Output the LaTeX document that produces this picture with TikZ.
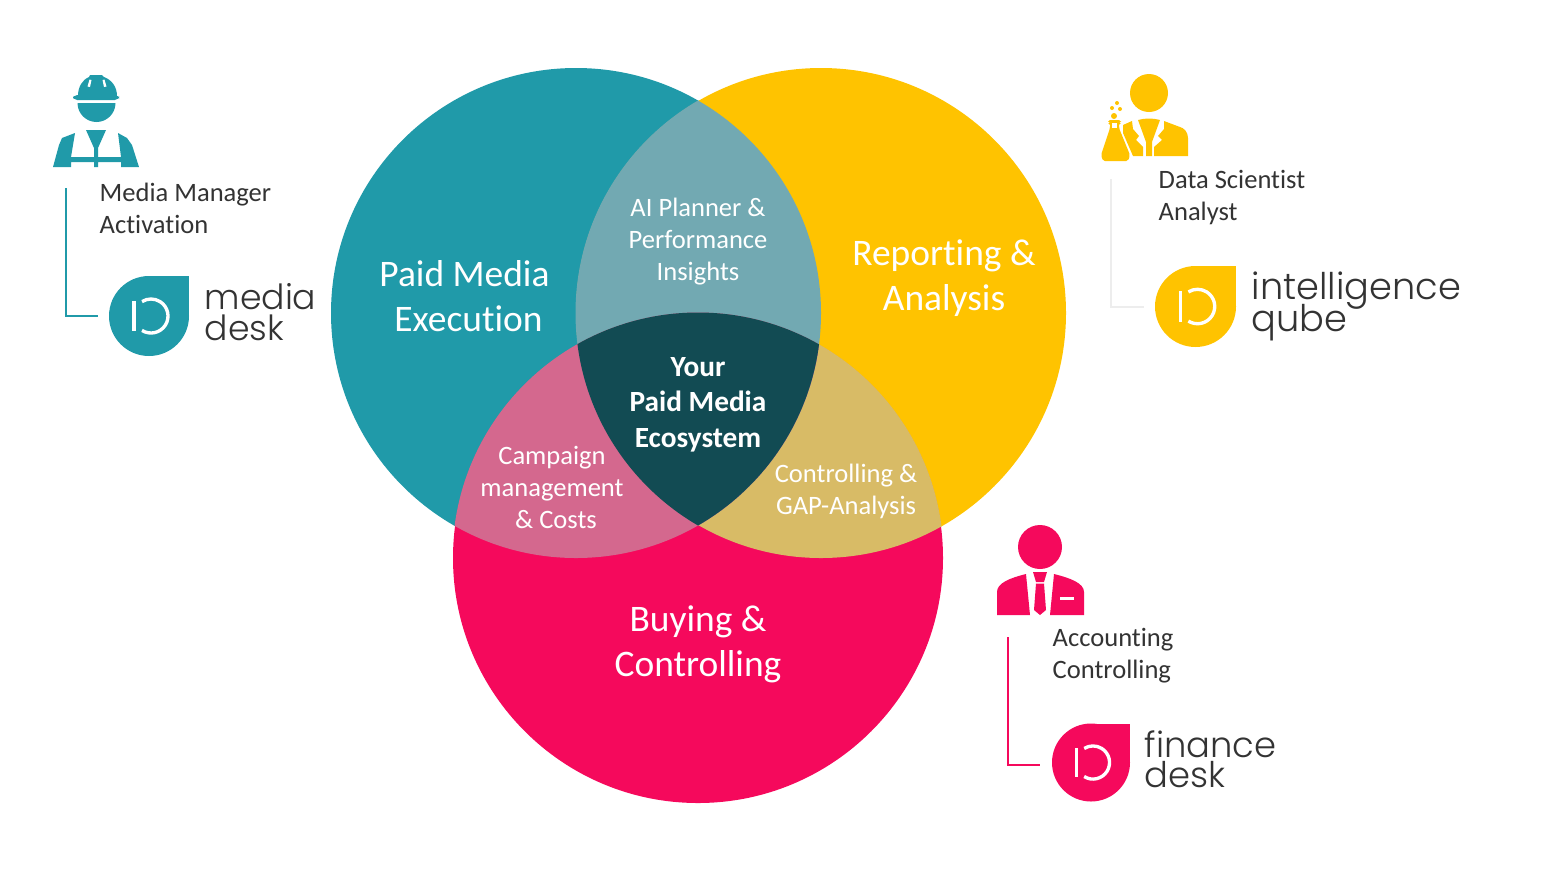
\documentclass[tikz,border=0pt]{standalone}
\usepackage{fontspec}
\setmainfont{Carlito}[Ligatures=NoCommon]
\newfontfamily\logofont{Poppins}[UprightFont=* Light]
\definecolor{tealc}{HTML}{209AA9}
\definecolor{yellowc}{HTML}{FFC300}
\definecolor{pinkc}{HTML}{F5095C}
\definecolor{lensty}{HTML}{72A9B2}
\definecolor{lenstp}{HTML}{D4688E}
\definecolor{lensyp}{HTML}{D8BB66}
\definecolor{corec}{HTML}{124B53}
\definecolor{inkc}{HTML}{333333}
\definecolor{lineyc}{HTML}{EDEDED}
\newcommand{\tightlines}{\lineskiplimit=-20pt\relax}
\newcommand{\logosize}[1]{\logofont\fontsize{#1}{8.6}\selectfont\tightlines}
\tikzset{
  bigtext/.style={text=white,align=center,inner sep=0pt,font=\fontsize{10.65}{12.76}\selectfont},
  midtext/.style={text=white,align=center,inner sep=0pt,font=\fontsize{7.55}{9.07}\selectfont},
  coretext/.style={text=white,align=center,inner sep=0pt,font=\fontsize{8.33}{10.1}\selectfont\bfseries},
  roletext/.style={text=inkc,align=left,anchor=west,inner sep=0pt,font=\fontsize{7.55}{9.07}\selectfont},
  logotext/.style={text=inkc,align=left,anchor=west,inner sep=0pt,font=\logosize{#1}},
  elbow/.style={line width=0.45pt},
}
% drop with the white mark: centre x, centre y, radius, colour
\newcommand{\logodrop}[4]{
  \begin{scope}[shift={(#1,#2)},scale=#3/40]
    \fill[#4] (0,0) circle (40);
    \fill[#4] (0,0) rectangle (40,-40);
    \draw[white,line width=0.95pt] (-15,-15) -- (-15,15);
    \draw[white,line width=0.95pt] (2,0) ++(122:17) arc (122:-122:17);
  \end{scope}
}
\begin{document}
\begin{tikzpicture}[x=0.01cm,y=-0.01cm]
\useasboundingbox (0,0) rectangle (1542,872);
% the three circles
\fill[tealc] (576,313) circle (245);
\fill[yellowc] (821,313) circle (245);
\fill[pinkc] (698,558) circle (245);
\begin{scope}
  \clip (821,313) circle (245);
  \clip (-10,-10) rectangle (1552,882) (576,313) circle (245);
  \fill[lensyp] (698,558) circle (245.5);
\end{scope}
\begin{scope}
  \clip (576,313) circle (245);
  \fill[lensty] (821,313) circle (245.5);
  \fill[lenstp] (698,558) circle (245.5);
  \clip (821,313) circle (245.5);
  \fill[corec] (698,558) circle (245.5);
\end{scope}
\node[bigtext] (paid) at (464.5,296) {Paid Media\\\hspace*{2.3pt}Execution};
\node[bigtext] (report) at (944,278.5) {Reporting \&\\Analysis};
\node[bigtext] (buying) at (698,644.5) {Buying \&\\Controlling};
\node[midtext] (planner) at (698,241.5) {AI Planner \&\\Performance\\Insights};
\node[midtext] (campaign) at (552,487.5) {Campaign\\management\\\hspace*{2.3pt}\& Costs};
\node[midtext] (gap) at (846,491.5) {Controlling \&\\GAP-Analysis};
\node[coretext] (core) at (698,404.5) {Your\\Paid Media\\Ecosystem};
% worker
\fill[tealc] (78,96) .. controls (78,87) and (82,80) .. (89,77) -- (90,75) -- (102,75) -- (104,77) .. controls (112,80) and (117,87) .. (117,96) -- cycle;
\fill[white] (89.5,79.5) -- (91.5,80) -- (90,87) -- (87.5,86.5) -- cycle;
\fill[white] (102.5,80) -- (104.5,79.5) -- (106.5,86.5) -- (104,87) -- cycle;
\fill[tealc,rounded corners=1.2pt] (73,95) rectangle (119,100);
\fill[tealc] (77.5,103) -- (115.5,103) arc (0:180:19) -- cycle;
\fill[tealc] (53,167) -- (59,145) -- (62,138) -- (75,133) -- (71,157) -- (121,157) -- (118,133) -- (127,138) -- (132,145) -- (139,167) -- (121,167) -- (121,162) -- (98,162) -- (98,167) -- (94,167) -- (94,162) -- (71,162) -- (71,167) -- cycle;
\fill[tealc] (86,130) -- (106,130) -- (98,148) -- (98,158) -- (94,158) -- (94,148) -- cycle;
% scientist
\fill[yellowc] (1149,93) circle (19);
\fill[yellowc] (1138,120) .. controls (1145,118) and (1153,118) .. (1160,120) -- (1152,142) -- (1152,156) -- (1146,156) -- (1146,142) -- cycle;
\fill[yellowc] (1164,121) -- (1164,129) -- (1158,136) -- (1162,140) -- (1154,147) -- (1154,156) -- (1188,156) -- (1188,138) .. controls (1188,132) and (1184,128) .. (1180,127) -- cycle;
\fill[yellowc] (1132,121) -- (1133,129) -- (1139,136) -- (1136,140) -- (1143,147) -- (1143,156) -- (1133,156) -- (1123,133) -- (1123,125) -- cycle;
\fill[yellowc,rounded corners=0.5pt] (1108,120) -- (1121,120) -- (1121,123) -- (1119,123) -- (1119,128) -- (1130,155) -- (1128,161) -- (1103,161) -- (1101,155) -- (1110,128) -- (1110,123) -- (1108,123) -- cycle;
\fill[white] (1112,123) rectangle (1117,128);
\fill[yellowc] (1114,116) circle (3);
\fill[yellowc] (1112,108) circle (2);
\fill[yellowc] (1120,109) circle (2);
\fill[yellowc] (1117,103) circle (2);
% accountant
\fill[pinkc] (1040,547) circle (22);
\fill[pinkc] (997,615) -- (997,592) .. controls (997,583) and (1010,578) .. (1026,574) -- (1030,615) -- cycle;
\fill[pinkc] (1084,615) -- (1084,592) .. controls (1084,583) and (1070,578) .. (1054,574) -- (1050,615) -- cycle;
\fill[pinkc] (1033,572) -- (1047,572) -- (1044,582) -- (1036,582) -- cycle;
\fill[pinkc] (1036,583.5) -- (1044,583.5) -- (1046,610) -- (1040,615) -- (1034,610) -- cycle;
\fill[white] (1060,597) rectangle (1074,600);
% role texts
\node[roletext] (media role) at (99,208.5) {Media Manager\\Activation};
\node[roletext] (data role) at (1158,197.5) {Data Scientist\\Analyst};
\node[roletext] (finance role) at (1052,656) {Accounting\\Controlling};
% logos
\logodrop{149}{316}{40}{tealc}
\logodrop{1195.5}{306.5}{40.5}{yellowc}
\logodrop{1091}{762.5}{39}{pinkc}
\node[logotext=9.85] (media logo) at (204,312) {media\\desk};
\node[logotext=10.45] (data logo) at (1251,306.5) {intelligence\\[0.6pt]qube};
\node[logotext=10.05] (finance logo) at (1144,759) {finance\\desk};
% connectors
\coordinate (media top) at (66,188);
\coordinate (media end) at (98,316);
\coordinate (data top) at (1111,179);
\coordinate (data end) at (1144,307);
\coordinate (finance top) at (1008,637);
\coordinate (finance end) at (1040,765);
\draw[elbow,tealc] (media top) |- (media end);
\draw[elbow,lineyc] (data top) |- (data end);
\draw[elbow,pinkc] (finance top) |- (finance end);
\end{tikzpicture}
\end{document}
